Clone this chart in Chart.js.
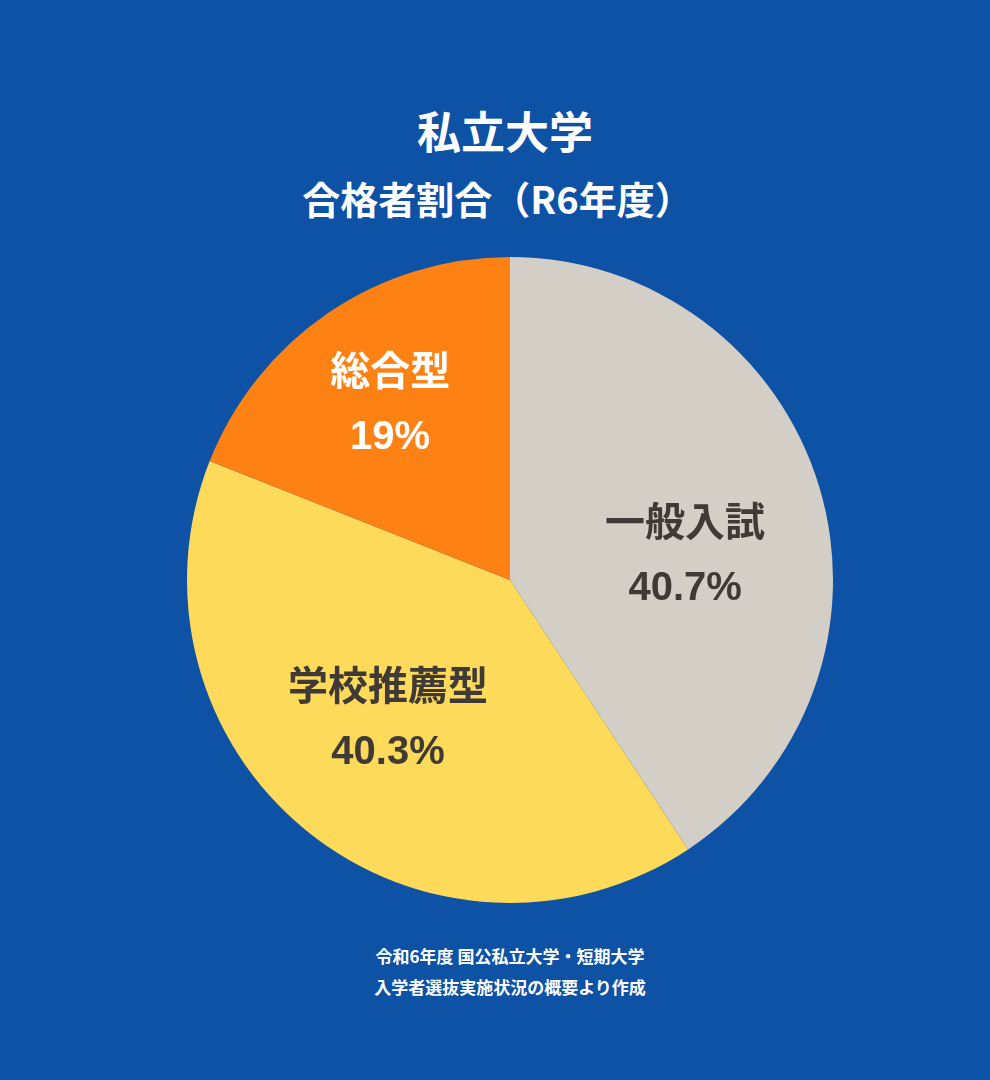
<!DOCTYPE html>
<html><head><meta charset="utf-8">
<script src="https://cdn.jsdelivr.net/npm/chart.js@4"></script>
<style>
body{margin:0;width:990px;height:1080px;background:#0D52A5;font-family:"Noto Sans CJK JP",sans-serif;position:relative;overflow:hidden}
.t{position:absolute;left:0;width:1010px;text-align:center;color:#fff;font-weight:bold}
#wrap{position:absolute;left:187px;top:257px;width:646px;height:646px}
</style></head><body>
<div class="t" style="top:98px;font-size:44px">私立大学</div>
<div class="t" style="top:170px;font-size:38px;width:995px">合格者割合（R6年度）</div>
<div class="t" style="top:943px;font-size:17px;width:1020px">令和6年度 国公私立大学・短期大学</div>
<div class="t" style="top:974px;font-size:17px;width:1020px">入学者選抜実施状況の概要より作成</div>
<div id="wrap"><canvas id="c"></canvas></div>
<script>
const categories=["一般入試","学校推薦型","総合型"];
const values=[40.7,40.3,19];
const valueLabels=["40.7%","40.3%","19%"];
const colors=["#D3CEC6","#FDDA5A","#FD8213"];
const textColors=["#3F3A36","#3F3A36","#FFFFFF"];
const offsets=[[5,25],[-10,0],[-20,-30]];
const labelPlugin={id:'lbl',afterDatasetsDraw(chart){
 const ctx=chart.ctx;const meta=chart.getDatasetMeta(0);
 meta.data.forEach((arc,i)=>{
  const a=(arc.startAngle+arc.endAngle)/2;const r=arc.outerRadius*0.55;
  const x=arc.x+Math.cos(a)*r+offsets[i][0],y=arc.y+Math.sin(a)*r+offsets[i][1];
  ctx.save();ctx.fillStyle=textColors[i];ctx.textAlign='center';ctx.textBaseline='middle';
  ctx.font='bold 40px "Noto Sans CJK JP"';ctx.fillText(categories[i],x,y-33);
  ctx.font='bold 40px "Liberation Sans", Arial';ctx.fillText(valueLabels[i],x,y+35);
  ctx.restore();});}};
new Chart(document.getElementById('c'),{type:'pie',
 data:{labels:categories,datasets:[{data:values,backgroundColor:colors,borderWidth:0}]},
 options:{responsive:true,maintainAspectRatio:false,animation:false,layout:{padding:0},
  plugins:{legend:{display:false},tooltip:{enabled:false}}},plugins:[labelPlugin]});
</script></body></html>
